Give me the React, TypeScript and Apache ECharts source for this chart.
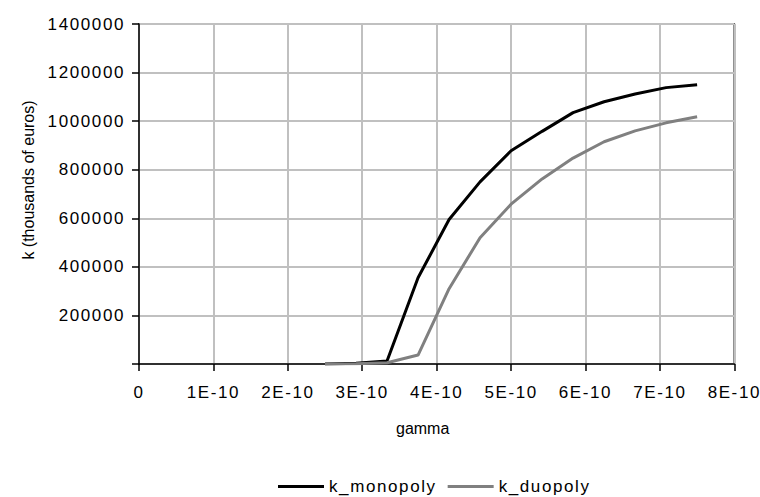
import React, { useEffect, useRef } from "react";
import * as echarts from "echarts";

const gamma = [2.5e-10, 2.917e-10, 3.333e-10, 3.75e-10, 4.167e-10, 4.583e-10, 5.0e-10, 5.417e-10, 5.833e-10, 6.25e-10, 6.667e-10, 7.083e-10, 7.5e-10];
const kMonopoly = [0, 3000, 12000, 355000, 595000, 750000, 878000, 958000, 1035000, 1080000, 1112000, 1138000, 1150000];
const kDuopoly = [0, 1000, 5000, 37000, 310000, 520000, 658000, 762000, 848000, 915000, 960000, 993000, 1018000];
const seriesNames = ["k_monopoly", "k_duopoly"];
const xAxisTitle = "gamma";
const yAxisTitle = "k (thousands of euros)";

const FONT = "'Liberation Sans', Arial, sans-serif";

export default function App() {
  const ref = useRef<HTMLDivElement>(null);
  useEffect(() => {
    if (!ref.current) return;
    const chart = echarts.init(ref.current, undefined, { renderer: "svg" });
    chart.setOption({
      animation: false,
      backgroundColor: "#ffffff",
      textStyle: { fontFamily: FONT },
      grid: {
        left: 139,
        top: 24,
        right: 25,
        bottom: 133,
        show: true,
        borderColor: "#000000",
        borderWidth: 1.5,
      },
      legend: {
        left: 278,
        top: 478,
        padding: 0,
        icon: "rect",
        itemWidth: 46,
        itemHeight: 3,
        itemGap: 27,
        textStyle: { fontSize: 17, color: "#000", fontFamily: FONT },
        data: seriesNames,
      },
      xAxis: {
        type: "value",
        min: 0,
        max: 8e-10,
        interval: 1e-10,
        name: xAxisTitle,
        nameLocation: "middle",
        nameGap: 56,
        nameTextStyle: { fontSize: 16, color: "#000", fontFamily: FONT, padding: [0, 28, 0, 0] },
        axisLine: { show: true, lineStyle: { color: "#000", width: 1.5 } },
        axisTick: { show: true, inside: false, length: 7, lineStyle: { color: "#000", width: 1.5 } },
        axisLabel: {
          margin: 20,
          fontSize: 17,
          color: "#000",
          fontFamily: FONT,
          formatter: (v: number) => {
            const n = Math.round(v * 1e10);
            return n === 0 ? "0" : `${n}E-10`;
          },
        },
        splitLine: { show: true, lineStyle: { color: "#c0c0c0", width: 2 } },
      },
      yAxis: {
        type: "value",
        min: 0,
        max: 1400000,
        interval: 200000,
        name: yAxisTitle,
        nameLocation: "middle",
        nameGap: 103,
        nameTextStyle: { fontSize: 16, color: "#000", fontFamily: FONT, padding: [0, 0, 0, 28] },
        axisLine: { show: true, lineStyle: { color: "#000", width: 1.5 } },
        axisTick: { show: true, inside: false, length: 7, lineStyle: { color: "#000", width: 1.5 } },
        axisLabel: {
          margin: 14,
          fontSize: 17,
          color: "#000",
          fontFamily: FONT,
          formatter: (v: number) => (v === 0 ? "" : String(v)),
        },
        splitLine: { show: true, lineStyle: { color: "#c0c0c0", width: 2 } },
      },
      series: [
        {
          name: seriesNames[0],
          type: "line",
          data: gamma.map((g, i) => [g, kMonopoly[i]]),
          showSymbol: false,
          symbol: "none",
          lineStyle: { color: "#000000", width: 3 },
          itemStyle: { color: "#000000" },
        },
        {
          name: seriesNames[1],
          type: "line",
          data: gamma.map((g, i) => [g, kDuopoly[i]]),
          showSymbol: false,
          symbol: "none",
          lineStyle: { color: "#808080", width: 3 },
          itemStyle: { color: "#808080" },
        },
      ],
    });
    return () => chart.dispose();
  }, []);
  return (
    <>
      <style>{`body{margin:0;} svg text[style*="17px"]{letter-spacing:1.6px;}`}</style>
      <div ref={ref} style={{ width: 760, height: 497 }} />
    </>
  );
}
